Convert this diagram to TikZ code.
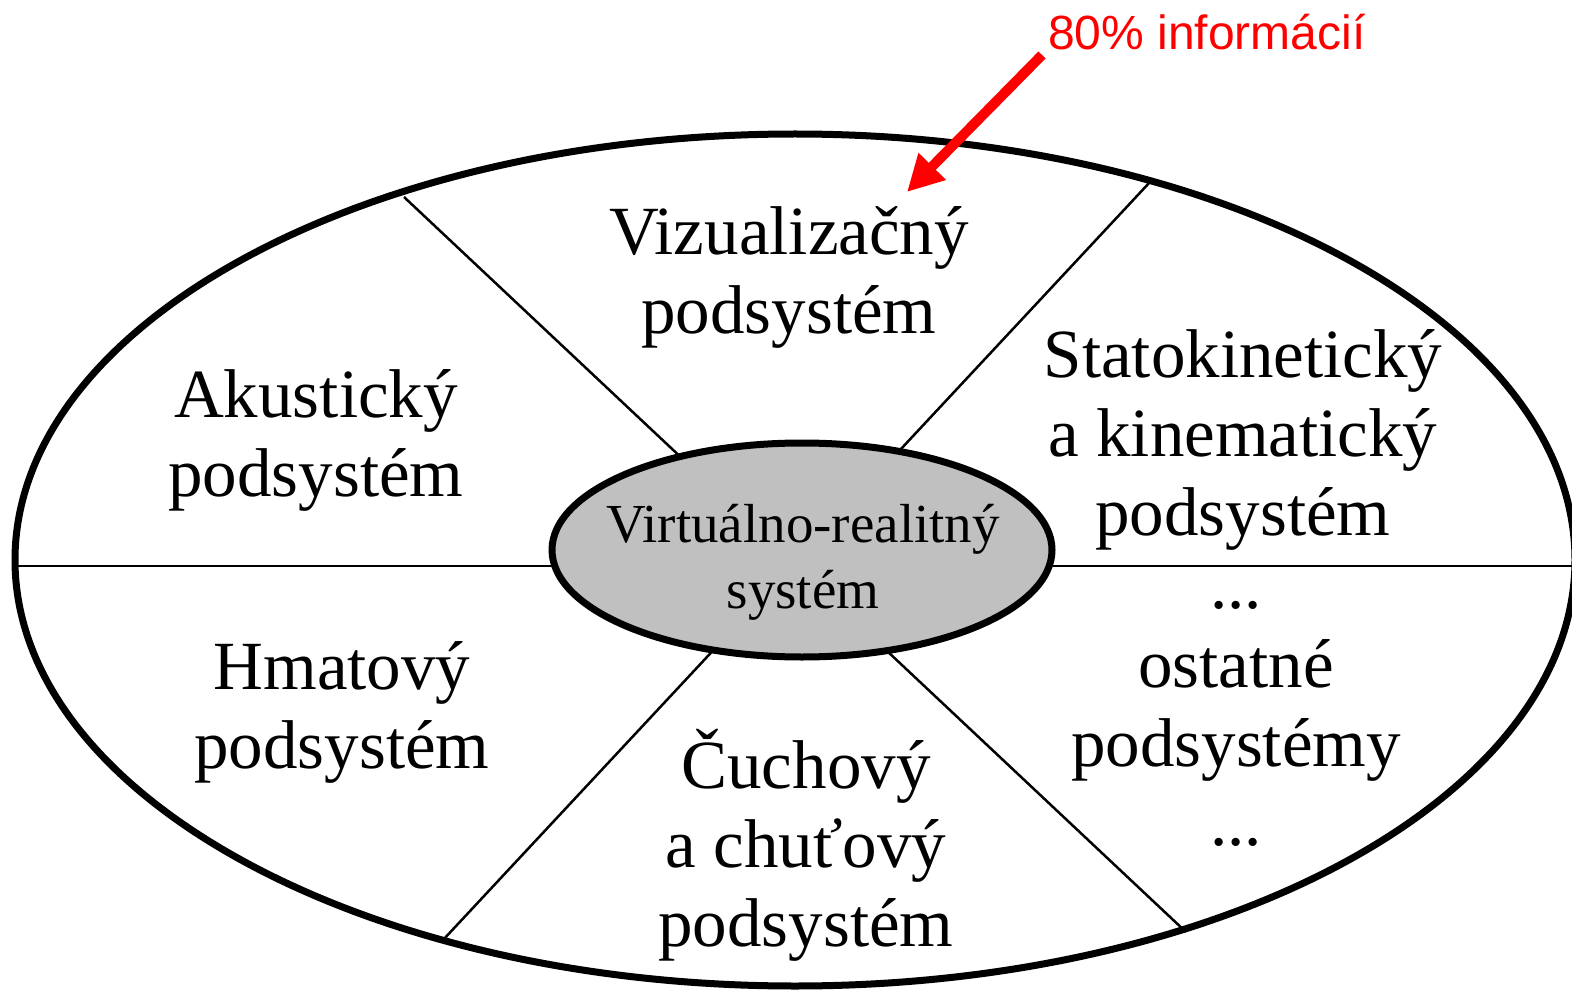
\documentclass[tikz,border=0pt]{standalone}
\usepackage{fontspec}
\setmainfont{Liberation Serif}
\newfontfamily\labelsans{Liberation Sans}
\usetikzlibrary{arrows.meta}
\definecolor{coregray}{RGB}{192,192,192}
\begin{document}
\begin{tikzpicture}[x=1pt,y=-1pt,
  rim/.style={line width=7pt},
  spoke/.style={line width=2.5pt},
  subsys/.style={font=\fontsize{69}{79}\selectfont, align=center, anchor=base, inner sep=0pt},
  coretext/.style={font=\fontsize{55}{66}\selectfont, align=center, anchor=base, inner sep=0pt},
  pointer/.style={draw=red, line width=10pt, -{Triangle[width=36pt,length=36pt]}},
  note/.style={font=\labelsans\fontsize{48}{56}\selectfont, text=red, anchor=base west, inner sep=0pt}]
\useasboundingbox (0,0) rectangle (1572,992);

% spokes, dividing the outer ring into six sectors
\coordinate (ul) at (404,197);
\coordinate (lr) at (1186,932);
\coordinate (ur) at (1150,182);
\coordinate (ll) at (443,940);
\coordinate (w) at (15,566);
\coordinate (e) at (1575,566);
\draw[spoke] (ul) -- (lr);
\draw[spoke] (ur) -- (ll);
\draw[spoke] (w) -- (e);

% outer boundary
\draw[rim] (795,560) ellipse [x radius=780, y radius=426];

% central system
\draw[rim, fill=coregray] (802,550) ellipse [x radius=250, y radius=107];
\node[coretext] (core) at (803,608) {Virtuálno-realitný\\systém};

% subsystems (anchored at the baseline of the last line)
\node[subsys] (vis) at (789,334) {Vizualizačný\\podsystém};
\node[subsys] (aku) at (316,496) {Akustický\\podsystém};
\node[subsys] (stat) at (1243,535) {Statokinetický\\a kinematický\\podsystém};
\node[subsys] (hmat) at (342,768) {Hmatový\\podsystém};
\node[subsys] (chuch) at (806,946) {Čuchový\\a chuťový\\podsystém};
\node[subsys] (ost) at (1236,845) {...\\ostatné\\podsystémy\\...};

% annotation
\node[note] (info) at (1048,50) {80\% informácií};
\coordinate (src) at (1042,55);
\coordinate (tip) at (907,192);
\draw[pointer] (src) -- (tip);
\end{tikzpicture}
\end{document}
